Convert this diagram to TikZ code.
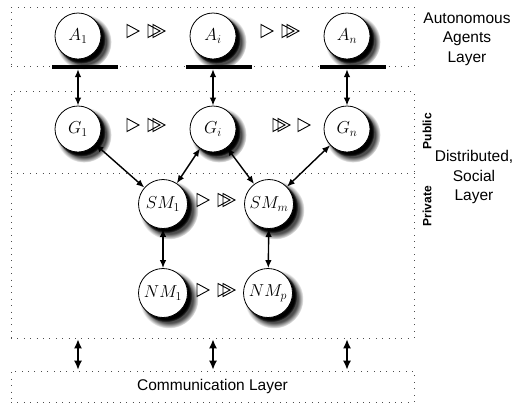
\documentclass[tikz,border=0pt]{standalone}
\usepackage{fontspec}
\setsansfont{Liberation Sans}
\usetikzlibrary{arrows.meta,shadows,fadings}

\begin{document}
\begin{tikzpicture}[x=1pt,y=-1pt,
  ball/.style={circle,draw,line width=0.8pt,fill=white,inner sep=0pt,
    font=\LARGE,
    circular drop shadow={shadow xshift=5pt,shadow yshift=-5pt,
      shadow scale=1.2,opacity=0.7,fill=black,
      path fading={circle with fuzzy edge 20 percent}},
    circular drop shadow={shadow xshift=3pt,shadow yshift=-3pt,
      shadow scale=1.06,opacity=1,fill=black,
      path fading={circle with fuzzy edge 10 percent}}},
  agent/.style={ball,minimum size=46pt},
  member/.style={ball,minimum size=49pt},
  layerbox/.style={draw=black!70,line width=0.7pt,dash pattern=on 0.8pt off 5.6pt,
    inner sep=0pt,font=\sffamily\fontsize{15.5}{19}\selectfont},
  layerline/.style={draw=black!70,line width=0.7pt,dash pattern=on 0.8pt off 5.6pt},
  sidelabel/.style={align=center,font=\sffamily\fontsize{15.5}{19.5}\selectfont},
  scope label/.style={rotate=90,font=\sffamily\bfseries\fontsize{12}{14}\selectfont},
  bar/.style={fill=black,inner sep=0pt,minimum width=66pt,minimum height=3.8pt},
  link/.style={line width=1.4pt,{Latex[length=8pt,width=6.5pt]}-{Latex[length=8pt,width=6.5pt]}},
  bus/.style={line width=1.4pt,{Latex[length=9pt,width=8pt]}-{Latex[length=9pt,width=8pt]}},
  tri/.pic={\draw[line width=0.9pt,line join=miter] (0,-6.5) -- (0,6.5) -- (12,0) -- cycle;},
  dtri/.pic={\draw[line width=0.9pt,line join=miter] (0,-6.5) -- (0,6.5) -- (12,0) -- cycle
                 (5,-6.5) -- (5,6.5) -- (17,0) -- cycle;}
]
\useasboundingbox (0,0) rectangle (519,405);

% layer frames
\node[layerbox,minimum width=403pt,minimum height=59pt] (agents) at (212.5,36.5) {};
\node[layerbox,minimum width=403pt,minimum height=247pt] (social) at (212.5,214.5) {};
\node[layerbox,minimum width=403pt,minimum height=31pt] (comm) at (212.5,386.5) {Communication Layer};
\draw[layerline] (social.west |- 0,173) -- (social.east |- 0,173);

% layer labels
\node[sidelabel] (lblagents) at (467,39) {Autonomous\\Agents\\Layer};
\node[sidelabel] (lblsocial) at (474,177) {Distributed,\\Social\\Layer};
\node[scope label] (lblpub) at (427,131) {Public};
\node[scope label] (lblpriv) at (427,206) {Private};

% agents
\node[agent] (A1) at (78,36) {$A_1$};
\node[agent] (Ai) at (213,36) {$A_i$};
\node[agent] (An) at (347,36) {$A_n$};
\node[bar] (b1) at (85,67) {};
\node[bar] (bi) at (219,67) {};
\node[bar] (bn) at (353,67) {};

% groups
\node[agent] (G1) at (78,129) {$G_1$};
\node[agent] (Gi) at (213,129) {$G_i$};
\node[agent] (Gn) at (347,129) {$G_n$};

% social and network managers
\node[member] (SM1) at (163,204) {$SM_1$};
\node[member] (SMm) at (269,204) {$SM_m$};
\node[member] (NM1) at (163,293) {$NM_1$};
\node[member] (NMp) at (268,293) {$NM_p$};

% sequence markers
\pic at (127,31) {tri};  \pic at (148,31) {dtri};
\pic at (261,31) {tri};  \pic at (282,31) {dtri};
\pic at (127,125) {tri}; \pic at (148,125) {dtri};
\pic at (273,125) {dtri}; \pic at (298,125) {tri};
\pic at (197,200) {tri}; \pic at (218,200) {dtri};
\pic at (197,290) {tri}; \pic at (218,290) {dtri};

% connections
\draw[link] (A1 |- b1.south) -- (G1.north);
\draw[link] (Ai |- bi.south) -- (Gi.north);
\draw[link] (An |- bn.south) -- (Gn.north);
\draw[link] (G1) -- (SM1);
\draw[link] (Gi) -- (SM1);
\draw[link] (Gi) -- (SMm);
\draw[link] (Gn) -- (SMm);
\draw[link] (SM1) -- (NM1);
\draw[link] (SMm) -- (NMp);

% links to the communication layer
\draw[bus,shorten <=1pt,shorten >=1pt] (A1 |- social.south) -- (A1 |- comm.north);
\draw[bus,shorten <=1pt,shorten >=1pt] (Ai |- social.south) -- (Ai |- comm.north);
\draw[bus,shorten <=1pt,shorten >=1pt] (An |- social.south) -- (An |- comm.north);
\end{tikzpicture}
\end{document}
